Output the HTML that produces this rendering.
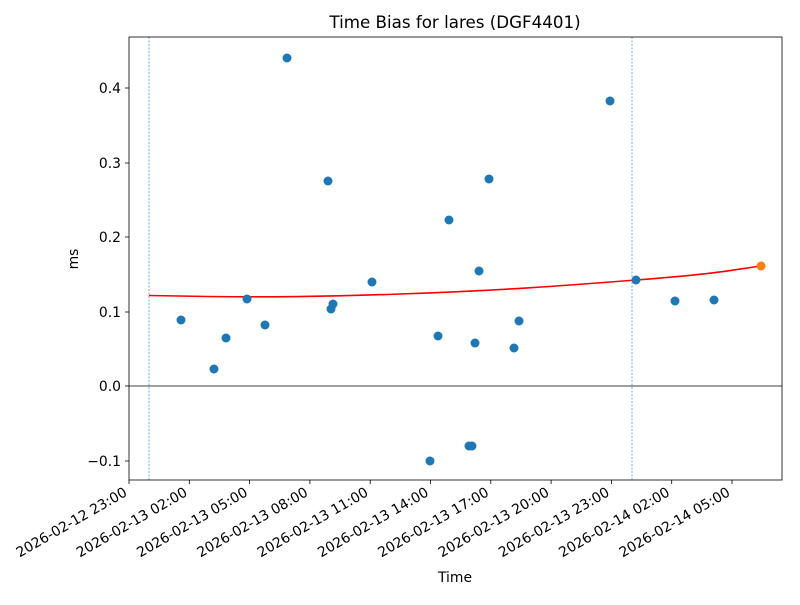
<!DOCTYPE html>
<html><head><style>body{margin:0;background:#fff}</style></head><body>
<svg width="800" height="600" xmlns="http://www.w3.org/2000/svg" font-family="DejaVu Sans, Liberation Sans, sans-serif" font-size="13.9">
<rect width="800" height="600" fill="#fff"/>
<text x="455" y="28" text-anchor="middle" font-size="16.7">Time Bias for lares (DGF4401)</text>
<line x1="149" y1="37" x2="149" y2="480" stroke="#1f77b4" stroke-width="0.6" stroke-dasharray="2,1.5"/>
<line x1="632" y1="37" x2="632" y2="480" stroke="#1f77b4" stroke-width="0.6" stroke-dasharray="2,1.5"/>
<line x1="129" y1="386" x2="782" y2="386" stroke="#000" stroke-width="0.8"/>
<path d="M149,295.5 C250,297.5 300,297.5 400,294 S560,286 636,280 S720,272 761,266" fill="none" stroke="red" stroke-width="1.6"/>
<g fill="#1f77b4">
<circle cx="181" cy="320" r="4.5"/><circle cx="214" cy="369" r="4.5"/><circle cx="226" cy="338" r="4.5"/>
<circle cx="247" cy="299" r="4.5"/><circle cx="265" cy="325" r="4.5"/><circle cx="287" cy="58" r="4.5"/>
<circle cx="328" cy="181" r="4.5"/><circle cx="331" cy="309" r="4.5"/><circle cx="333" cy="304" r="4.5"/>
<circle cx="372" cy="282" r="4.5"/><circle cx="430" cy="461" r="4.5"/><circle cx="438" cy="336" r="4.5"/>
<circle cx="449" cy="220" r="4.5"/><circle cx="469" cy="446" r="4.5"/><circle cx="472" cy="446" r="4.5"/>
<circle cx="475" cy="343" r="4.5"/><circle cx="479" cy="271" r="4.5"/><circle cx="489" cy="179" r="4.5"/>
<circle cx="514" cy="348" r="4.5"/><circle cx="519" cy="321" r="4.5"/><circle cx="610" cy="101" r="4.5"/>
<circle cx="636" cy="280" r="4.5"/><circle cx="675" cy="301" r="4.5"/><circle cx="714" cy="300" r="4.5"/>
</g>
<circle cx="761" cy="266" r="4.5" fill="#ff7f0e"/>
<rect x="129" y="37" width="653" height="443" fill="none" stroke="#000" stroke-width="0.8"/>
<g stroke="#000" stroke-width="0.8">
<line x1="125" y1="88" x2="129" y2="88"/><line x1="125" y1="163" x2="129" y2="163"/><line x1="125" y1="237" x2="129" y2="237"/>
<line x1="125" y1="312" x2="129" y2="312"/><line x1="125" y1="386" x2="129" y2="386"/><line x1="125" y1="461" x2="129" y2="461"/>
</g>
<g text-anchor="end">
<text x="121" y="93">0.4</text><text x="121" y="168">0.3</text><text x="121" y="242">0.2</text>
<text x="121" y="317">0.1</text><text x="121" y="391">0.0</text><text x="121" y="466">−0.1</text>
</g>
<text transform="translate(78,259) rotate(-90)" text-anchor="middle">ms</text>
<g stroke="#000" stroke-width="0.8">
<line x1="129" y1="480" x2="129" y2="484"/><line x1="189.3" y1="480" x2="189.3" y2="484"/><line x1="249.6" y1="480" x2="249.6" y2="484"/>
<line x1="309.9" y1="480" x2="309.9" y2="484"/><line x1="370.2" y1="480" x2="370.2" y2="484"/><line x1="430.5" y1="480" x2="430.5" y2="484"/>
<line x1="490.8" y1="480" x2="490.8" y2="484"/><line x1="551.1" y1="480" x2="551.1" y2="484"/><line x1="611.4" y1="480" x2="611.4" y2="484"/>
<line x1="671.7" y1="480" x2="671.7" y2="484"/><line x1="732" y1="480" x2="732" y2="484"/>
</g>
<g text-anchor="end">
<text transform="translate(128,495) rotate(-30)">2026-02-12 23:00</text>
<text transform="translate(188.3,495) rotate(-30)">2026-02-13 02:00</text>
<text transform="translate(248.6,495) rotate(-30)">2026-02-13 05:00</text>
<text transform="translate(308.9,495) rotate(-30)">2026-02-13 08:00</text>
<text transform="translate(369.2,495) rotate(-30)">2026-02-13 11:00</text>
<text transform="translate(429.5,495) rotate(-30)">2026-02-13 14:00</text>
<text transform="translate(489.8,495) rotate(-30)">2026-02-13 17:00</text>
<text transform="translate(550.1,495) rotate(-30)">2026-02-13 20:00</text>
<text transform="translate(610.4,495) rotate(-30)">2026-02-13 23:00</text>
<text transform="translate(670.7,495) rotate(-30)">2026-02-14 02:00</text>
<text transform="translate(731,495) rotate(-30)">2026-02-14 05:00</text>
</g>
<text x="455" y="582" text-anchor="middle">Time</text>
</svg>
</body></html>
